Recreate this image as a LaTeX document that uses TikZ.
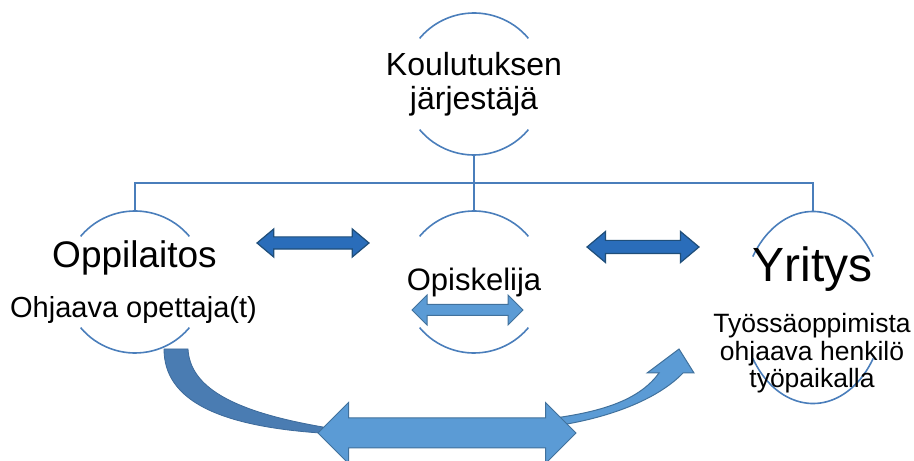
\documentclass[tikz,border=0pt]{standalone}
\usepackage{fontspec}
\setmainfont{Liberation Sans}
\usetikzlibrary{shapes.geometric,shapes.arrows}
\definecolor{ringblue}{HTML}{4A7EBB}
\definecolor{lightfill}{HTML}{5B9BD5}
\definecolor{lightedge}{HTML}{41719C}
\definecolor{darkfill}{HTML}{2A6DBA}
\definecolor{darkedge}{HTML}{1F4E79}
\definecolor{curvefill}{HTML}{4A7CB2}
\definecolor{curveedge}{HTML}{3D6A9A}

\begin{document}
\begin{tikzpicture}[x=1pt,y=1pt,
 ring/.style={circle,minimum size=142pt,inner sep=0pt,outer sep=0pt},
 ringline/.style={draw=ringblue,line width=1.6pt},
 dblarr/.style={double arrow,inner xsep=0pt,outer sep=0pt,double arrow head extend=#1},
 lightarr/.style={fill=lightfill,draw=lightedge,line width=1pt},
 darkarr/.style={fill=darkfill,draw=darkedge,line width=1.2pt},
 txt/.style={anchor=base,inner sep=0pt,align=center}]
 \useasboundingbox (0,0) rectangle (914,461);
 % rings
 \node[ring] (jarj) at (474,377) {};
 \node[ring] (opp) at (135,179) {};
 \node[ring] (opis) at (474,179) {};
 \node[ellipse,minimum width=142pt,minimum height=192pt,inner sep=0pt,outer sep=0pt] (yr) at (813,153.5) {};
 \draw[ringline] (jarj) ++(40:71) arc[start angle=40,end angle=140,radius=71];
 \draw[ringline] (jarj) ++(220:71) arc[start angle=220,end angle=320,radius=71];
 \draw[ringline] (opp) ++(40:71) arc[start angle=40,end angle=140,radius=71];
 \draw[ringline] (opp) ++(220:71) arc[start angle=220,end angle=320,radius=71];
 \draw[ringline] (opis) ++(40:71) arc[start angle=40,end angle=140,radius=71];
 \draw[ringline] (opis) ++(220:71) arc[start angle=220,end angle=320,radius=71];
 \draw[ringline] (yr) ++(32:71 and 96) arc[start angle=32,end angle=148,x radius=71,y radius=96];
 \draw[ringline] (yr) ++(212:71 and 96) arc[start angle=212,end angle=328,x radius=71,y radius=96];
 % tree
 \coordinate (bar) at (0,278);
 \draw[ringline] (jarj.south) -- (jarj |- bar);
 \draw[ringline] (opp.north) |- (bar -| yr) -- (yr.north);
 \draw[ringline] (opis.north) -- (opis |- bar);
 % texts (base = last line)
 \node[txt,font=\fontsize{32}{34}\selectfont] (jarjtxt) at (474,351) {Koulutuksen\\järjestäjä};
 \node[txt,font=\fontsize{37}{40}\selectfont] (opptxt) at (134.5,193) {Oppilaitos};
 \node[txt,font=\fontsize{29}{31}\selectfont] (opesub) at (133.5,143) {Ohjaava opettaja(t)};
 \node[txt,font=\fontsize{31}{33}\selectfont] (opistxt) at (474,170) {Opiskelija};
 \node[txt,font=\fontsize{48}{50}\selectfont] (yrtxt) at (812.5,179) {Yritys};
 \node[txt,font=\fontsize{26.5}{27.5}\selectfont] (yrsub) at (812,73) {Työssäoppimista\\ohjaava henkilö\\työpaikalla};
 % curved arrows
 \filldraw[fill=curvefill,draw=curveedge,line width=0.8pt] (164,112) .. controls (164,60) and (220,35) .. (320,28) -- (323,34) .. controls (230,50) and (190,75) .. (188,112) -- cycle;
 \filldraw[lightarr] (555,35) .. controls (615,44) and (660,64) .. (683,88) -- (694,88) -- (679,112) -- (647,88) -- (659,88) .. controls (640,62) and (605,50) .. (555,43) -- cycle;
 % double arrows
 \node[dblarr=15.5,lightarr,inner ysep=14.5pt,minimum height=258pt,minimum width=60pt] (bigarr) at (447,28) {};
 \node[dblarr=9.5,lightarr,inner ysep=5pt,minimum height=111pt,minimum width=29pt] (opisarr) at (467.5,151) {};
 \node[dblarr=8,darkarr,inner ysep=5.5pt,minimum height=112pt,minimum width=27pt,double arrow tip angle=80] (leftarr) at (313,218) {};
 \node[dblarr=9,darkarr,inner ysep=6pt,minimum height=112pt,minimum width=30pt,double arrow tip angle=80] (rightarr) at (643,214) {};
\end{tikzpicture}
\end{document}
